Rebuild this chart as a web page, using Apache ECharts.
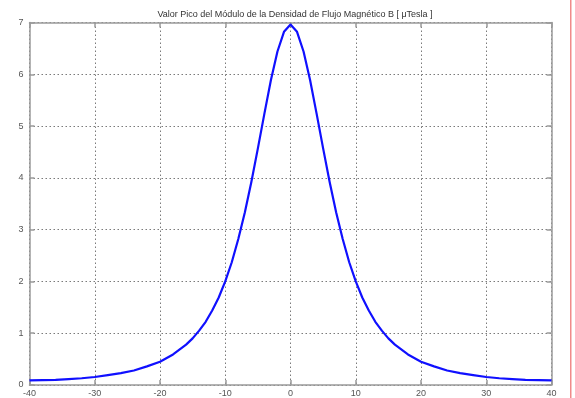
<!DOCTYPE html>
<html>
<head>
<meta charset="utf-8">
<script src="https://cdn.jsdelivr.net/npm/echarts@6/dist/echarts.min.js"></script>
<style>
  html, body { margin: 0; padding: 0; background: #fff; }
  #chart { width: 575px; height: 398px; }
</style>
</head>
<body>
<div id="chart"></div>
<script>
// Position along the axis (x) and peak |B| in microtesla
var positions = [-40, -38, -36, -34, -32, -30, -28, -26, -24, -22, -20, -18, -16,
  -15, -14, -13, -12, -11, -10, -9, -8, -7, -6, -5, -4, -3, -2, -1, 0,
  1, 2, 3, 4, 5, 6, 7, 8, 9, 10, 11, 12, 13, 14, 15,
  16, 18, 20, 22, 24, 26, 28, 30, 32, 34, 36, 38, 40];
var bPeak = [0.09, 0.095, 0.10, 0.115, 0.13, 0.155, 0.19, 0.23, 0.28, 0.36, 0.45, 0.59, 0.78,
  0.90, 1.05, 1.22, 1.44, 1.69, 2.00, 2.37, 2.82, 3.33, 3.92, 4.57, 5.24, 5.89, 6.44, 6.82, 6.96,
  6.82, 6.44, 5.89, 5.24, 4.57, 3.92, 3.33, 2.82, 2.37, 2.00, 1.69, 1.44, 1.22, 1.05, 0.90,
  0.78, 0.59, 0.45, 0.36, 0.28, 0.23, 0.19, 0.155, 0.13, 0.115, 0.10, 0.095, 0.09];
var xTicks = [-40, -30, -20, -10, 0, 10, 20, 30, 40];
var yTicks = [0, 1, 2, 3, 4, 5, 6, 7];
var titleText = 'Valor Pico del Módulo de la Densidad de Flujo Magnético B [ μTesla ]';

var points = positions.map(function (x, i) { return [x, bPeak[i]]; });

var gridLine = { show: true, lineStyle: { color: '#7a7a7a', width: 1, type: [1.5, 2.5] } };
var axisLineStyle = { color: '#9a9a9a', width: 1.5 };
var labelStyle = { color: '#555', fontSize: 9, fontFamily: 'Liberation Sans, Arial, sans-serif' };

var chart = echarts.init(document.getElementById('chart'), null, { renderer: 'canvas' });
chart.setOption({
  animation: false,
  backgroundColor: '#fff',
  title: {
    text: titleText,
    left: 290, top: 5, textAlign: 'center',
    textStyle: { color: '#333', fontSize: 9, fontWeight: 'normal', fontFamily: 'Liberation Sans, Arial, sans-serif' }
  },
  grid: { left: 29.5, right: 23.5, top: 22.5, bottom: 11.5, containLabel: false },
  xAxis: [{
    type: 'value', min: -40, max: 40, interval: 10, position: 'bottom',
    axisLine: { show: true, onZero: false, lineStyle: axisLineStyle },
    axisTick: { show: true, inside: true, length: 5, lineStyle: axisLineStyle },
    axisLabel: Object.assign({ margin: 4 }, labelStyle),
    splitLine: gridLine
  }, {
    type: 'value', min: -40, max: 40, interval: 10, position: 'top',
    axisLine: { show: true, onZero: false, lineStyle: axisLineStyle },
    axisTick: { show: true, inside: true, length: 5, lineStyle: axisLineStyle },
    axisLabel: { show: false }, splitLine: { show: false }
  }],
  yAxis: [{
    type: 'value', min: 0, max: 7, interval: 1, position: 'left',
    axisLine: { show: true, onZero: false, lineStyle: axisLineStyle },
    axisTick: { show: true, inside: true, length: 5, lineStyle: axisLineStyle },
    axisLabel: Object.assign({ margin: 6 }, labelStyle),
    splitLine: gridLine
  }, {
    type: 'value', min: 0, max: 7, interval: 1, position: 'right',
    axisLine: { show: true, onZero: false, lineStyle: axisLineStyle },
    axisTick: { show: true, inside: true, length: 5, lineStyle: axisLineStyle },
    axisLabel: { show: false }, splitLine: { show: false }
  }],
  series: [{
    type: 'line',
    data: points,
    xAxisIndex: 0, yAxisIndex: 0,
    showSymbol: false,
    smooth: false,
    lineStyle: { color: '#1010ff', width: 2.2, join: 'round' }
  }],
  graphic: [{
    type: 'rect',
    shape: { x: 570, y: 0, width: 1.5, height: 398 },
    style: { fill: '#f08a8a' },
    silent: true
  }]
});
</script>
</body>
</html>
